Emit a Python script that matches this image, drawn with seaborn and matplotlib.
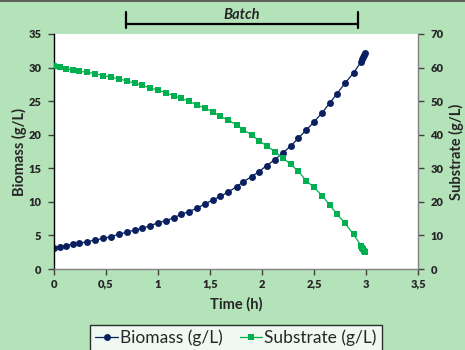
import matplotlib
matplotlib.use("Agg")
import matplotlib.pyplot as plt
import seaborn as sns
from matplotlib.lines import Line2D
from matplotlib.ticker import FuncFormatter, MultipleLocator

# values
time_h = [0, 0.058, 0.115, 0.18, 0.243, 0.32, 0.397, 0.474, 0.545, 0.622,
          0.699, 0.776, 0.846, 0.923, 1.0, 1.077, 1.154, 1.224, 1.295, 1.372,
          1.449, 1.526, 1.596, 1.673, 1.757, 1.82, 1.90, 1.97, 2.045, 2.125,
          2.20, 2.276, 2.35, 2.425, 2.50, 2.58, 2.65, 2.72, 2.80, 2.88,
          2.955, 2.965, 2.975, 2.985, 2.995]
biomass = [3.08, 3.32, 3.47, 3.68, 3.83, 4.07, 4.32, 4.57, 4.82, 5.17,
           5.47, 5.81, 6.06, 6.41, 6.9, 7.2, 7.64, 8.15, 8.54, 9.04,
           9.68, 10.28, 10.8, 11.45, 12.26, 13.0, 13.75, 14.5, 15.4, 16.3,
           17.3, 18.3, 19.5, 20.7, 21.9, 23.3, 24.7, 26.1, 27.7, 29.2,
           30.9, 31.3, 31.6, 31.9, 32.1]
substrate = [60.5, 60.1, 59.7, 59.3, 58.9, 58.6, 58.2, 57.6, 57.2, 56.6,
             56.1, 55.3, 54.8, 53.9, 53.3, 52.5, 51.6, 50.8, 50.0, 48.9,
             47.9, 46.9, 45.5, 44.4, 42.9, 41.4, 40.0, 38.2, 36.7, 34.9,
             33.1, 31.2, 29.1, 26.3, 24.3, 21.8, 19.1, 16.4, 13.6, 10.3,
             6.85, 6.3, 5.9, 5.5, 5.15]
batch_start, batch_end = 0.69, 2.92

bg = "#B4E3BA"
navy = "#0B2060"
green = "#00B050"

sns.set_style("white")
plt.rcParams["font.family"] = ["Lato", "DejaVu Sans"]

fig = plt.figure(figsize=(4.65, 3.5), dpi=100, facecolor=bg)
ax = fig.add_axes([54 / 465, 1 - 269 / 350, 364 / 465, 235 / 350])
ax.set_facecolor("white")
ax2 = ax.twinx()

sns.lineplot(x=time_h, y=biomass, ax=ax, color=navy, marker="o", markersize=5,
             markeredgewidth=0, linewidth=0.9, label="Biomass (g/L)", legend=False)
sns.lineplot(x=time_h, y=substrate, ax=ax2, color=green, marker="s", markersize=5,
             markeredgewidth=0, linewidth=0.9, label="Substrate (g/L)", legend=False)

ax.set_xlim(0, 3.5)
ax.set_ylim(0, 35)
ax2.set_ylim(0, 70)
ax.xaxis.set_major_locator(MultipleLocator(0.5))
ax.yaxis.set_major_locator(MultipleLocator(5))
ax2.yaxis.set_major_locator(MultipleLocator(10))
comma = FuncFormatter(lambda v, p: ("%g" % v).replace(".", ","))
ax.xaxis.set_major_formatter(comma)

for a in (ax, ax2):
    for s in a.spines.values():
        s.set_visible(False)
ax.spines["left"].set_visible(True)
ax.spines["left"].set_color("black")
ax.spines["bottom"].set_visible(True)
ax.spines["bottom"].set_color("#808080")
ax2.spines["right"].set_visible(True)
ax2.spines["right"].set_color("#808080")
for s in ("left", "bottom"):
    ax.spines[s].set_linewidth(1.0)
ax2.spines["right"].set_linewidth(1.0)

tick_kw = dict(direction="out", length=4, width=1, labelsize=8, pad=3)
ax.tick_params(axis="both", left=True, bottom=True, color="#404040", **tick_kw)
ax2.tick_params(axis="y", right=True, color="#404040", **tick_kw)
for lab in ax.get_xticklabels() + ax.get_yticklabels() + ax2.get_yticklabels():
    lab.set_fontweight("heavy")
ax.tick_params(axis="y", pad=5)
ax2.tick_params(axis="y", pad=5)

ax.set_xlabel("Time (h)", fontsize=10.5, fontweight="bold", labelpad=5)
ax.set_ylabel("Biomass (g/L)", fontsize=10.5, fontweight="bold", labelpad=1)
ax2.set_ylabel("Substrate (g/L)", fontsize=10.5, fontweight="bold", labelpad=4)

# batch bracket above the plot
tr = ax.get_xaxis_transform()
ax.plot([batch_start, batch_end], [1.043, 1.043], transform=tr, color="black",
        lw=1.6, clip_on=False)
for xb in (batch_start, batch_end):
    ax.plot([xb, xb], [1.025, 1.095], transform=tr, color="black", lw=1.6, clip_on=False)
ax.text((batch_start + batch_end) / 2, 1.05, "Batch", transform=tr, ha="center",
        va="bottom", fontsize=10.5, fontweight="bold", fontstyle="italic")

# thin border along the top edge
fig.add_artist(Line2D([0, 1], [0.997, 0.997], color="#606060", lw=1.5))

handles = [ax.get_lines()[0], ax2.get_lines()[0]]
leg = fig.legend(handles, ["Biomass (g/L)", "Substrate (g/L)"], loc="upper center",
                 bbox_to_anchor=(236 / 465, 1 - 316 / 350), ncol=2, fontsize=12.5,
                 frameon=True, fancybox=False, edgecolor="black", handlelength=1.3,
                 handletextpad=0.1, columnspacing=1.0, borderpad=0.3)
leg.get_frame().set_linewidth(1.0)
leg.get_frame().set_facecolor("white")

fig.savefig("out.png", dpi=100, facecolor=bg)
